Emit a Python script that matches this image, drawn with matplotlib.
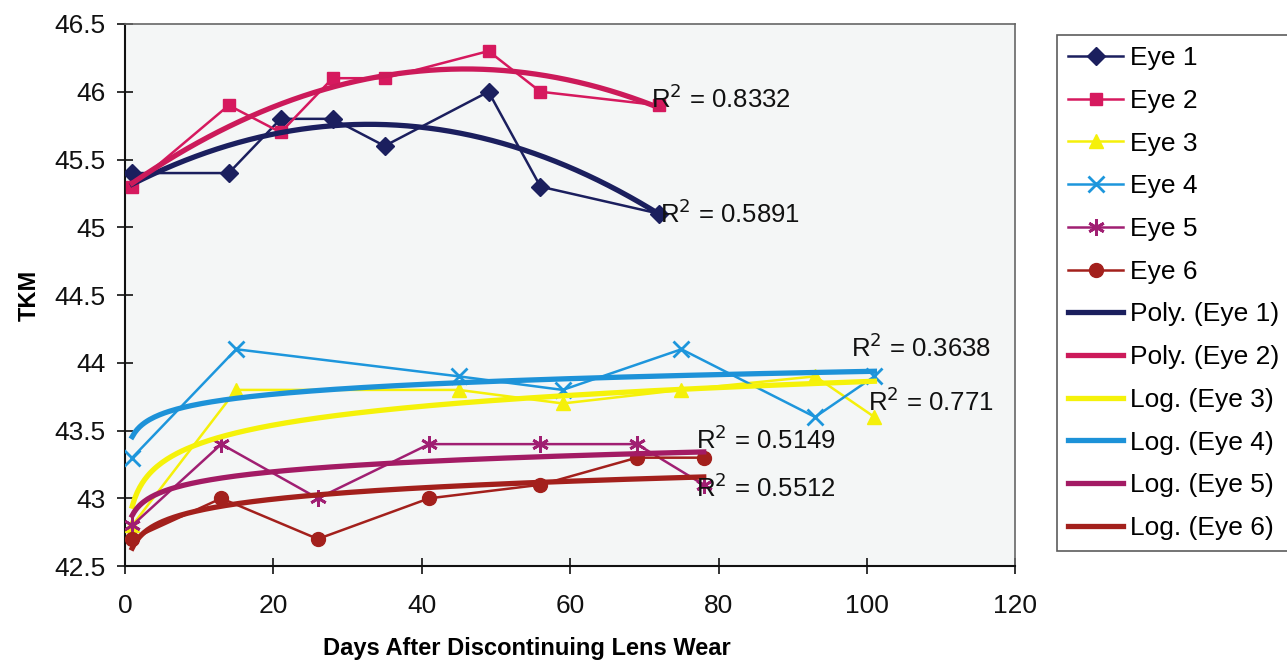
import numpy as np
import matplotlib
matplotlib.use("Agg")
import matplotlib.pyplot as plt

plt.rcParams['font.family'] = ['Liberation Sans', 'DejaVu Sans']

# Dados (dias x TKM)
eye1_x = [1, 14, 21, 28, 35, 49, 56, 72]
eye1_y = [45.4, 45.4, 45.8, 45.8, 45.6, 46.0, 45.3, 45.1]
eye2_x = [1, 14, 21, 28, 35, 49, 56, 72]
eye2_y = [45.3, 45.9, 45.7, 46.1, 46.1, 46.3, 46.0, 45.9]
eye3_x = [1, 15, 45, 59, 75, 93, 101]
eye3_y = [42.8, 43.8, 43.8, 43.7, 43.8, 43.9, 43.6]
eye4_x = [1, 15, 45, 59, 75, 93, 101]
eye4_y = [43.3, 44.1, 43.9, 43.8, 44.1, 43.6, 43.9]
eye5_x = [1, 13, 26, 41, 56, 69, 78]
eye5_y = [42.8, 43.4, 43.0, 43.4, 43.4, 43.4, 43.1]
eye6_x = [1, 13, 26, 41, 56, 69, 78]
eye6_y = [42.7, 43.0, 42.7, 43.0, 43.1, 43.3, 43.3]

r2_labels = ["0.8332", "0.5891", "0.771", "0.3638", "0.5149", "0.5512"]
# posição dos rótulos R² (dados)
r2_pos = [(70.9, 45.95), (72.1, 45.10), (100.2, 43.71), (97.9, 44.11), (76.9, 43.43), (76.9, 43.08)]

series = [
    ("Eye 1", eye1_x, eye1_y, '#1b1f5e', 'D', 9, "Poly.", '#1b1f5e'),
    ("Eye 2", eye2_x, eye2_y, '#d6195e', 's', 9, "Poly.", '#cc1a5a'),
    ("Eye 3", eye3_x, eye3_y, '#f5f00a', '^', 10, "Log.", '#f5f20a'),
    ("Eye 4", eye4_x, eye4_y, '#1d96dc', 'x', 11, "Log.", '#1d92d8'),
    ("Eye 5", eye5_x, eye5_y, '#a01f72', (6, 2, 0), 12, "Log.", '#a31b64'),
    ("Eye 6", eye6_x, eye6_y, '#a3201c', 'o', 10, "Log.", '#a3201c'),
]

fig = plt.figure(figsize=(12.87, 6.66), dpi=100, facecolor='white')
ax = fig.add_axes([0.097, 0.150, 0.692, 0.814])
ax.set_facecolor('#f4f6f6')

data_handles = []
trend_handles = []
for name, xs, ys, col, mk, ms, kind, tcol in series:
    x = np.array(xs, dtype=float)
    y = np.array(ys, dtype=float)
    h, = ax.plot(x, y, color=col, marker=mk, markersize=ms, linewidth=1.8,
                 markeredgewidth=2 if mk in ('x', (6, 2, 0)) else 1,
                 markeredgecolor=col, label=name, zorder=3)
    data_handles.append(h)
    # linha de tendência (polinomial ordem 2 ou logarítmica)
    xx = np.linspace(x.min(), x.max(), 300)
    if kind == "Poly.":
        c = np.polyfit(x, y, 2)
        yy = np.polyval(c, xx)
    else:
        c = np.polyfit(np.log(x), y, 1)
        yy = c[0] * np.log(xx) + c[1]
    t, = ax.plot(xx, yy, color=tcol, linewidth=3.8, label=f"{kind} ({name})", zorder=4)
    trend_handles.append(t)

for lab, (px, py) in zip(r2_labels, r2_pos):
    ax.text(px, py, f"R$^2$ = {lab}", fontsize=18.5, va='center', ha='left', color='#111', zorder=6)

ax.set_xlim(0, 120)
ax.set_ylim(42.5, 46.5)
ax.set_xticks(np.arange(0, 121, 20))
ax.set_yticks(np.arange(42.5, 46.51, 0.5))
ax.set_yticklabels(["42.5", "43", "43.5", "44", "44.5", "45", "45.5", "46", "46.5"])
ax.tick_params(axis='both', direction='inout', length=12, width=1.2, labelsize=19, colors='#111')
ax.tick_params(axis='x', pad=14)
ax.tick_params(axis='y', pad=8)
for s in ['left', 'bottom']:
    ax.spines[s].set_color('#111')
    ax.spines[s].set_linewidth(1.5)
for s in ['top', 'right']:
    ax.spines[s].set_color('#666')
    ax.spines[s].set_linewidth(1.2)

ax.set_xlabel("Days After Discontinuing Lens Wear", fontsize=17, fontweight='bold', labelpad=14)
ax.xaxis.set_label_coords((527 - 125) / 890, -0.13)
ax.set_ylabel("TKM", fontsize=17, fontweight='bold', labelpad=10)

leg = fig.legend(handles=data_handles + trend_handles, loc='upper left',
                 bbox_to_anchor=(1057 / 1287, 1 - 35 / 666), fontsize=19, frameon=True,
                 fancybox=False, edgecolor='#333', handlelength=2.08,
                 handletextpad=0.27, labelspacing=0.71, borderpad=0.42,
                 borderaxespad=0)
leg.get_frame().set_linewidth(1.2)

fig.savefig("out.png", dpi=100, facecolor='white')
